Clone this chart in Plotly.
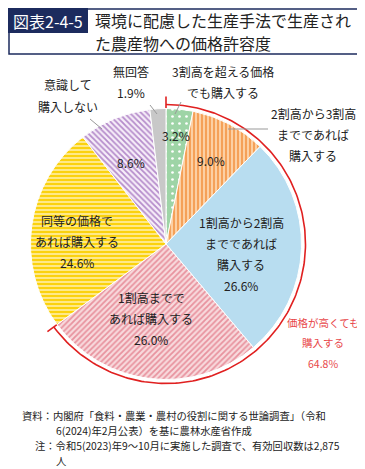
import numpy as np
import plotly.graph_objects as go

# ---- data ----
categories = ["3割高を超える価格でも購入する", "2割高から3割高までであれば購入する",
              "1割高から2割高までであれば購入する", "1割高までであれば購入する",
              "同等の価格であれば購入する", "意識して購入しない", "無回答"]
values = [3.2, 9.0, 26.6, 26.0, 24.6, 8.6, 1.9]
higher_total = 64.8
n_higher = 4

W, H = 365, 469
FONT = "Noto Sans CJK JP"
NAVY = "#1c2b5e"
RED = "#e02020"
TXT = "#222222"

cx, cy, R = 158, 236, 135.5
RA = 139.5  # red arc radius

fig = go.Figure()

fig.add_trace(go.Pie(
    labels=categories, values=values, sort=False, direction="clockwise", rotation=0,
    textinfo="none", showlegend=False,
    domain=dict(x=[(cx - R) / W, (cx + R) / W], y=[(H - cy - R) / H, (H - cy + R) / H]),
    marker=dict(
        colors=["#9ed4a6", "#fcd2aa", "#b8ddf0", "#f6d0d4", "#ffe47a", "#f3e6f6", "#c8c8c8"],
        line=dict(color="white", width=1),
        pattern=dict(
            shape=[".", "|", "", "/", "-", "\\", ""],
            fgcolor=["#ffffff", "#f59c50", "#b8ddf0", "#e8929e", "#fff0a8", "#b58ccb", "#c8c8c8"],
            bgcolor=["#9ed4a6", "#fcd0a4", "#b8ddf0", "#f8dadd", "#fbd20e", "#f7eef9", "#c8c8c8"],
            fillmode="replace", size=[7, 4, 4, 4, 4, 4, 4],
            solidity=[0.12, 0.45, 0.45, 0.45, 0.4, 0.45, 0.45],
        ),
    ),
))

# red bracket arc for "price higher" share, derived from data
frac = sum(values[:n_higher]) / sum(values)
th = np.linspace(0, 2 * np.pi * frac, 200)
ax_ = cx + RA * np.sin(th)
ay_ = cy - RA * np.cos(th)
fig.add_trace(go.Scatter(x=ax_, y=ay_, mode="lines", line=dict(color=RED, width=1.6),
                         hoverinfo="skip", showlegend=False))
for t in [0.0, 2 * np.pi * frac]:
    fig.add_trace(go.Scatter(
        x=[cx + (RA - 6) * np.sin(t), cx + (RA + 8) * np.sin(t)],
        y=[cy - (RA - 6) * np.cos(t), cy - (RA + 8) * np.cos(t)],
        mode="lines", line=dict(color=RED, width=1.6), hoverinfo="skip", showlegend=False))

fig.update_layout(
    width=W, height=H, margin=dict(l=0, r=0, t=0, b=0),
    paper_bgcolor="white", plot_bgcolor="rgba(0,0,0,0)",
    xaxis=dict(range=[0, W], visible=False, fixedrange=True),
    yaxis=dict(range=[H, 0], visible=False, fixedrange=True),
    font=dict(family=FONT, color=TXT),
)

shapes = [
    dict(type="rect", x0=1, y0=1, x1=363, y1=46, line=dict(color=NAVY, width=1.5)),
    dict(type="rect", x0=0, y0=0, x1=80, y1=25, fillcolor=NAVY, line=dict(width=0)),
    # leader lines
    dict(type="line", x0=82, y0=111, x1=94, y1=121, line=dict(color="#999999", width=1)),
    dict(type="line", x0=142, y0=97, x1=149, y1=106, line=dict(color="#999999", width=1)),
    dict(type="line", x0=173, y0=94, x1=167, y1=106, line=dict(color="#999999", width=1)),
    dict(type="line", x0=220, y0=121, x1=260, y1=121, line=dict(color="#999999", width=1)),
]
fig.update_layout(shapes=shapes)

def ann(text, x, y, size=12, color=TXT, xanchor="center"):
    fig.add_annotation(text=text, x=x, y=y, xref="x", yref="y", showarrow=False,
                       xanchor=xanchor, yanchor="middle", borderpad=0,
                       font=dict(family=FONT, size=size, color=color))

ann("図表2-4-5", 40, 13, size=16, color="white")
ann("環境に配慮した生産手法で生産され", 86, 12, size=16, xanchor="left")
ann("た農産物への価格許容度", 86, 35, size=16, xanchor="left")

pct = [f"{v:.1f}%" for v in values]

ann("無回答", 123, 63)
ann(pct[6], 123, 84)
ann("3割高を超える価格", 215, 63)
ann("でも購入する", 215, 84)
ann("意識して", 60, 76)
ann("購入しない", 60, 98)
ann("2割高から3割高", 305, 105)
ann("までであれば", 305, 126)
ann("購入する", 305, 147)
ann(pct[0], 168, 127)
ann(pct[1], 203, 152)
ann(pct[5], 123, 154)
ann("1割高から2割高", 233, 214)
ann("までであれば", 233, 235)
ann("購入する", 233, 256)
ann(pct[2], 233, 277)
ann("1割高までで", 143, 289)
ann("あれば購入する", 143, 310)
ann(pct[3], 143, 331)
ann("同等の価格で", 69, 212)
ann("あれば購入する", 69, 233)
ann(pct[4], 69, 254)
ann("価格が高くても", 315, 314, size=10.5, color="#e8474a")
ann("購入する", 315, 334, size=10.5, color="#e8474a")
ann(f"{higher_total:.1f}%", 315, 355, size=10.5, color="#e8474a")

FS = 10.3
ann("資料：内閣府「食料・農業・農村の役割に関する世論調査」（令和", 13, 407, size=FS, xanchor="left")
ann("6(2024)年2月公表）を基に農林水産省作成", 47, 422, size=FS, xanchor="left")
ann("注：令和5(2023)年9～10月に実施した調査で、有効回収数は2,875", 26, 437, size=FS, xanchor="left")
ann("人", 47, 452, size=FS, xanchor="left")

fig.write_html("out.html")
